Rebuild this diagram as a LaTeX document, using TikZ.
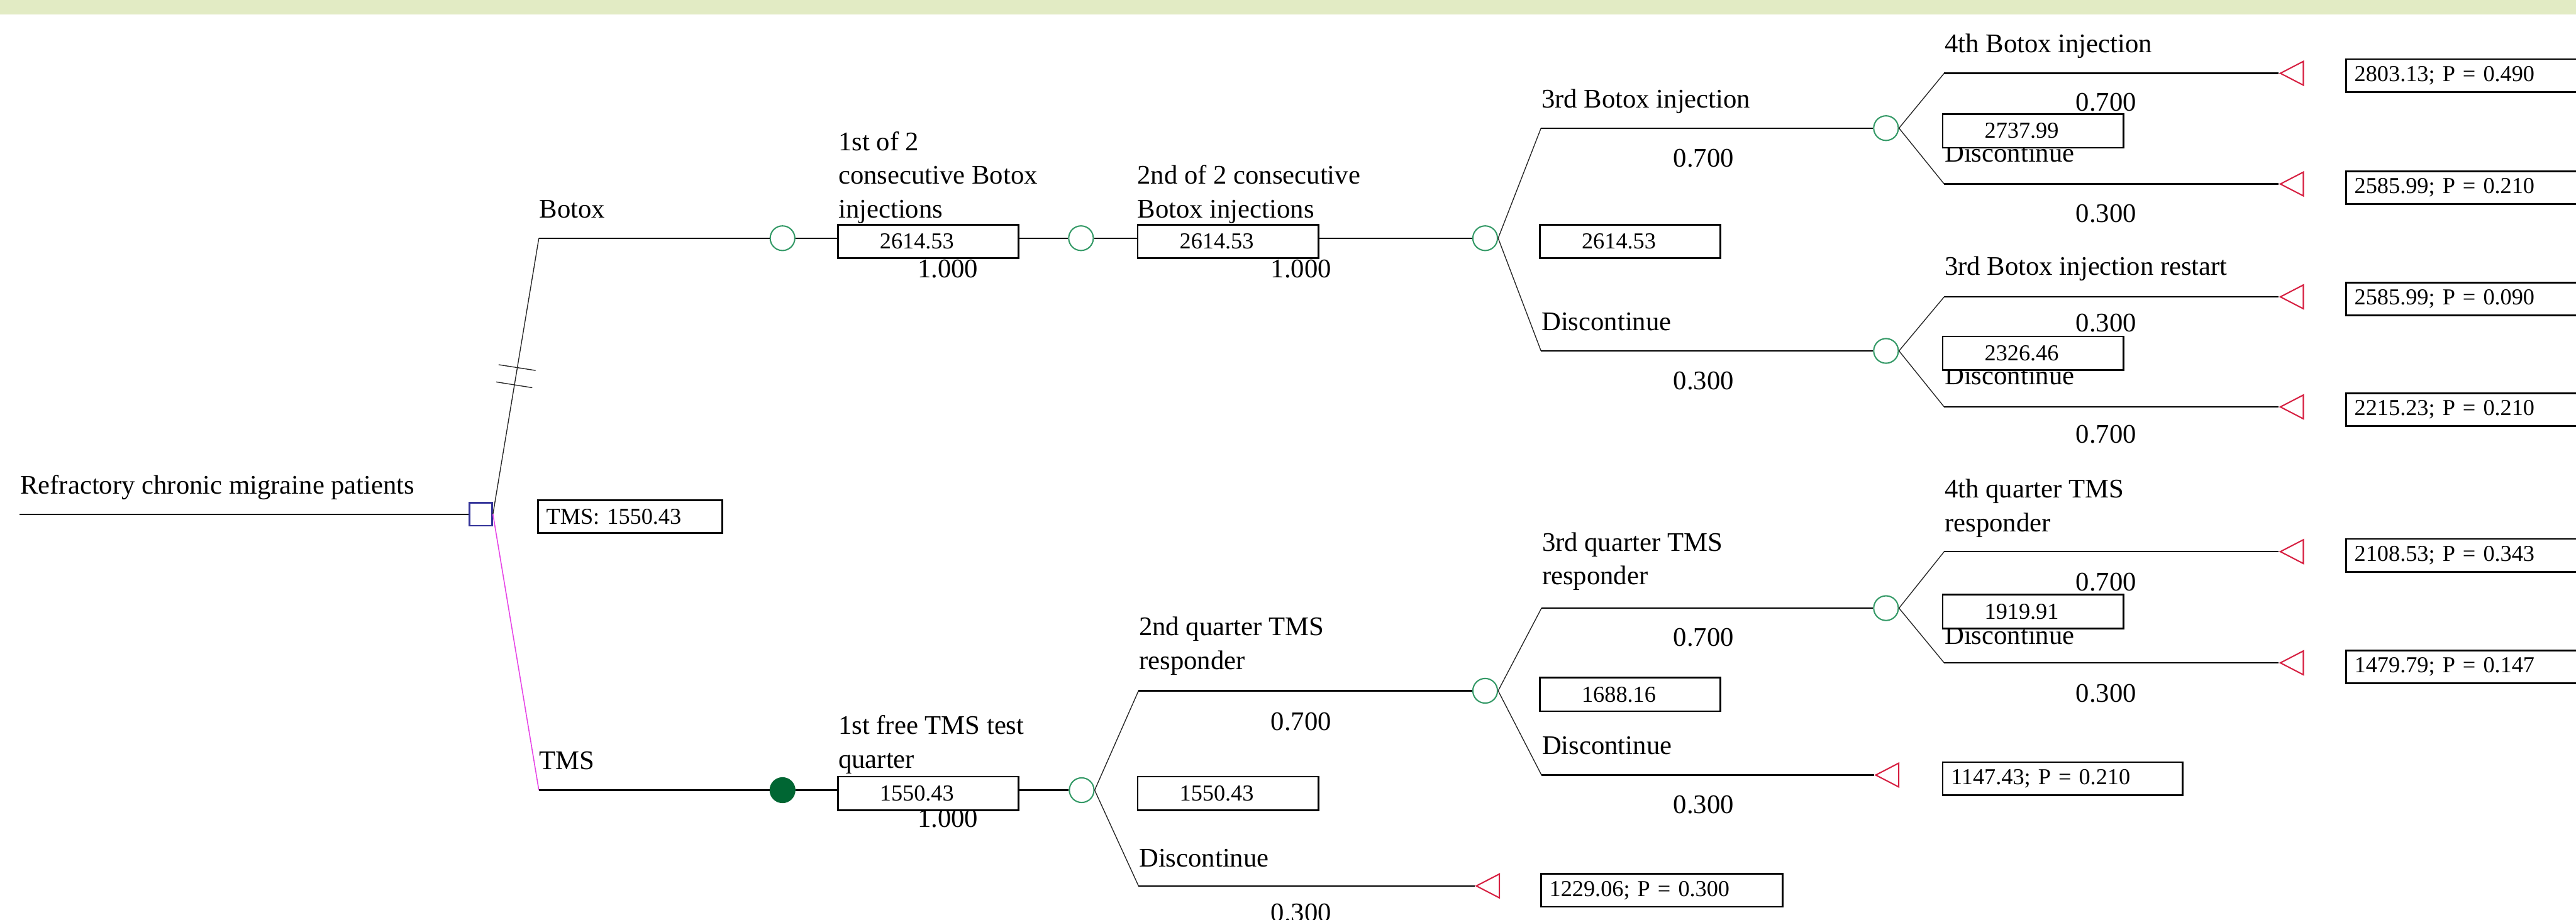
\documentclass[tikz,border=0pt]{standalone}
\usepackage{fontspec}
\setmainfont{Liberation Serif}
\usetikzlibrary{shapes.geometric}

\definecolor{bandgreen}{RGB}{226,235,196}
\definecolor{chgreen}{RGB}{51,153,102}
\definecolor{dkgreen}{RGB}{0,102,51}
\definecolor{decblue}{RGB}{51,51,153}
\definecolor{termred}{RGB}{214,30,64}
\definecolor{tmspink}{RGB}{230,70,230}

\newcommand{\dtlab}{\fontsize{9.3}{11.67}\selectfont}
\newcommand{\dtval}{\fontsize{7.9}{9.5}\selectfont}

\tikzset{
  chance/.style={circle, draw=chgreen, fill=white, line width=0.45pt, inner sep=0pt, minimum size=3mm},
  chancefull/.style={chance, draw=dkgreen, fill=dkgreen},
  decision/.style={rectangle, draw=decblue, fill=white, line width=0.5pt, inner sep=0pt, minimum size=2.76mm},
  terminal/.style={isosceles triangle, isosceles triangle stretches, shape border rotate=180,
    draw=termred, fill=white, line width=0.45pt, inner sep=0pt, minimum width=2.9mm, minimum height=2.8mm, anchor=apex},
  stem/.style={line width=0.5pt},
  twig/.style={line width=0.3pt, black!85},
  valbox/.style={draw, fill=white, line width=0.6pt, inner xsep=0pt, inner ysep=0pt, text width=22mm,
    align=left, minimum height=4.1mm, font=\dtval, execute at begin node={\hspace*{5.1mm}}},
  endbox/.style={draw, fill=white, line width=0.6pt, inner xsep=1mm, inner ysep=0pt, text width=#1,
    align=left, minimum height=4mm, anchor=west, font=\dtval},
  endbox/.default=27.4mm,
  branch/.style={anchor=base west, inner sep=0pt, align=left, font=\dtlab},
  prob/.style={anchor=base, inner sep=0pt, font=\dtlab},
}

\begin{document}
\begin{tikzpicture}[x=0.2mm, y=-0.2mm]
\clip (0,0) rectangle (1568,560);
\fill[bandgreen] (0,0) rectangle (1568,8.8);

% decision node and the two strategies
\coordinate (root) at (12,313);
\node[decision] (dec) at (292.7,313) {};
\coordinate (bx) at (328,145);
\coordinate (tx) at (328,481);

% Botox arm
\node[chance] (c1) at (476.3,145) {};
\node[chance] (c2) at (658,145) {};
\node[chance] (c3) at (904,145) {};
\coordinate (inj3) at (938,78);
\coordinate (dis3) at (938,213.6);
\node[chance] (c4) at (1148,78) {};
\node[chance] (c5) at (1148,213.6) {};
\coordinate (inj4) at (1183.4,44.6);
\coordinate (dis4) at (1183.4,112);
\coordinate (rst3) at (1183.4,180.7);
\coordinate (dis5) at (1183.4,247.7);
\node[terminal] (t1) at (1387,44.6) {};
\node[terminal] (t2) at (1387,112) {};
\node[terminal] (t3) at (1387,180.7) {};
\node[terminal] (t4) at (1387,247.7) {};

% TMS arm
\node[chancefull] (c6) at (476.3,481) {};
\node[chance] (c7) at (658.4,481) {};
\coordinate (q2) at (693,420.5);
\coordinate (dis6) at (693,539.3);
\node[terminal] (t5) at (897.6,539.3) {};
\node[chance] (c8) at (904,420.5) {};
\coordinate (q3) at (938.3,370.2);
\coordinate (dis7) at (938.3,471.8);
\node[terminal] (t6) at (1140.7,471.8) {};
\node[chance] (c9) at (1148,370.2) {};
\coordinate (q4) at (1183.4,335.8);
\coordinate (dis8) at (1183.4,403.5);
\node[terminal] (t7) at (1387,335.8) {};
\node[terminal] (t8) at (1387,403.5) {};

% branches
\draw[stem] (root) -- (dec);
\draw[twig] (dec.east) -- (bx);
\draw[tmspink, line width=0.35pt] (dec.east) -- (tx);
\draw[stem] (bx) -- (c1) (c1) -- (c2) (c2) -- (c3);
\draw[stem] (tx) -- (c6) (c6) -- (c7);
\foreach \a/\b in {c3/inj3, c3/dis3, c4/inj4, c4/dis4, c5/rst3, c5/dis5,
                   c7/q2, c7/dis6, c8/q3, c8/dis7, c9/q4, c9/dis8}
  \draw[twig] (\a.east) -- (\b);
\draw[stem] (inj3) -- (c4) (dis3) -- (c5) (q2) -- (c8) (q3) -- (c9);
\foreach \a/\b in {inj4/t1, dis4/t2, rst3/t3, dis5/t4, dis6/t5, dis7/t6, q4/t7, dis8/t8}
  \draw[stem] (\a) -- (\b.apex);

% cut marks on the Botox branch
\draw[twig] (303.5,222) -- (326,225.5);
\draw[twig] (302,232.5) -- (324,236);

% branch names
\node[branch] (lroot) at (12,300.5) {Refractory chronic migraine patients};
\node[branch] (lbotox) at (328,132.5) {Botox};
\node[branch] (ltms) at (328,468.5) {TMS};
\node[branch] (l1) at (510,132.5) {1st of 2\\consecutive Botox\\injections};
\node[branch] (l2) at (692,132.5) {2nd of 2 consecutive\\Botox injections};
\node[branch] (l3) at (938,65.5) {3rd Botox injection};
\node[branch] (l4) at (938,201) {Discontinue};
\node[branch] (l5) at (1183.4,32) {4th Botox injection};
\node[branch] (l6) at (1183.4,98.5) {Discontinue};
\node[branch] (l7) at (1183.4,167.5) {3rd Botox injection restart};
\node[branch] (l8) at (1183.4,234) {Discontinue};
\node[branch] (l9) at (510,467.5) {1st free TMS test\\quarter};
\node[branch] (l10) at (693,407.5) {2nd quarter TMS\\responder};
\node[branch] (l11) at (693,527.5) {Discontinue};
\node[branch] (l12) at (938.3,356) {3rd quarter TMS\\responder};
\node[branch] (l13) at (938.3,459) {Discontinue};
\node[branch] (l14) at (1183.4,323.5) {4th quarter TMS\\responder};
\node[branch] (l15) at (1183.4,392.3) {Discontinue};

% probabilities
\foreach \x/\y/\p [count=\i] in {577/169/1.000, 792/169/1.000, 1037/101.5/0.700, 1037/237/0.300,
    1282/67.5/0.700, 1282/135.5/0.300, 1282/202/0.300, 1282/269.5/0.700,
    577/503.5/1.000, 792/444.5/0.700, 792/561/0.300, 1037/393.5/0.700, 1037/495/0.300,
    1282/359.5/0.700, 1282/427.5/0.300}
  \node[prob] (p\i) at (\x,\y) {\p};

% expected values
\node[valbox] (v1) at (565,147) {2614.53};
\node[valbox] (v2) at (747.5,147) {2614.53};
\node[valbox] (v3) at (992.3,147) {2614.53};
\node[valbox] (v4) at (1237.5,79.7) {2737.99};
\node[valbox] (v5) at (1237.5,215) {2326.46};
\node[valbox] (v6) at (565,483) {1550.43};
\node[valbox] (v7) at (747.5,483) {1550.43};
\node[valbox] (v8) at (992.3,422.7) {1688.16};
\node[valbox] (v9) at (1237.5,372.3) {1919.91};
\node[endbox=20.4mm] (e0) at (327,314.5) {TMS: 1550.43};

% payoffs
\node[endbox] (e1) at (1427.6,46) {2803.13; P = 0.490};
\node[endbox] (e2) at (1427.6,114.2) {2585.99; P = 0.210};
\node[endbox] (e3) at (1427.6,182) {2585.99; P = 0.090};
\node[endbox] (e4) at (1427.6,249.4) {2215.23; P = 0.210};
\node[endbox] (e5) at (1427.6,338.1) {2108.53; P = 0.343};
\node[endbox] (e6) at (1427.6,406) {1479.79; P = 0.147};
\node[endbox] (e7) at (937.6,542) {1229.06; P = 0.300};
\node[endbox=27.2mm] (e8) at (1182,474) {1147.43; P = 0.210};
\end{tikzpicture}
\end{document}
